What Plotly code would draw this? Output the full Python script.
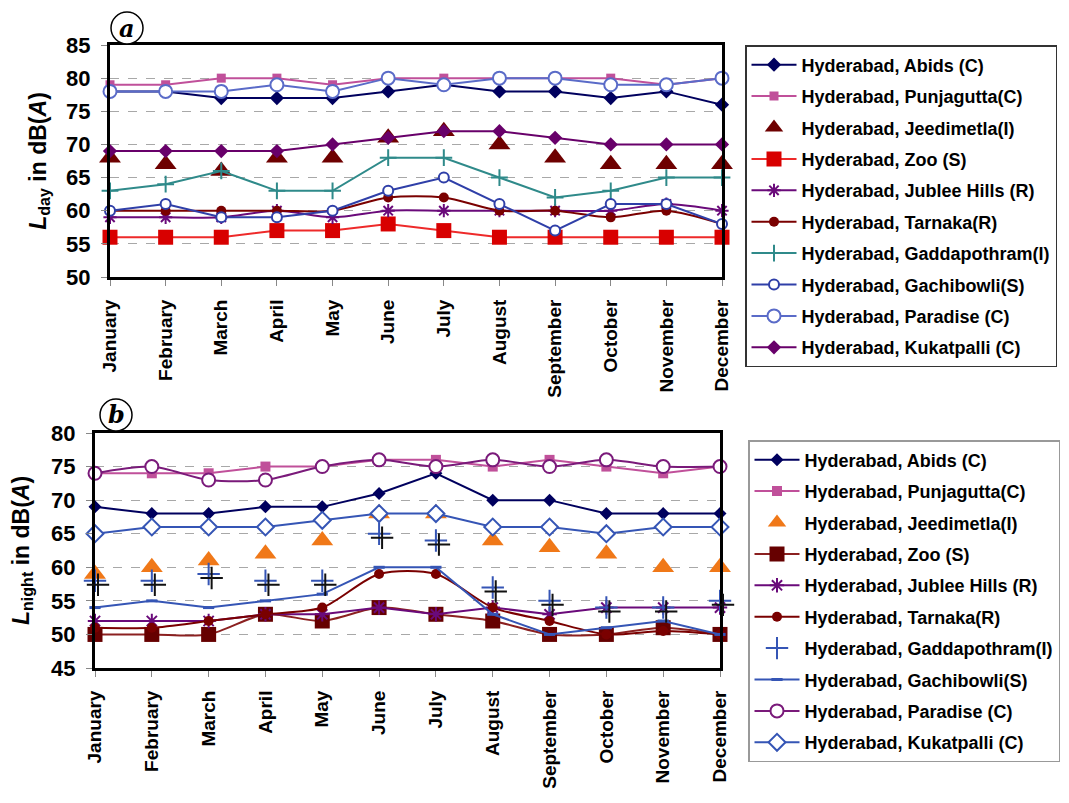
import plotly.graph_objects as go

months = ["January", "February", "March", "April", "May", "June", "July",
          "August", "September", "October", "November", "December"]

names_a = ["Hyderabad, Abids (C)", "Hyderabad, Punjagutta(C)", "Hyderabad, Jeedimetla(I)",
           "Hyderabad, Zoo (S)", "Hyderabad, Jublee Hills (R)", "Hyderabad, Tarnaka(R)",
           "Hyderabad, Gaddapothram(I)", "Hyderabad, Gachibowli(S)", "Hyderabad, Paradise (C)",
           "Hyderabad, Kukatpalli (C)"]
names_b = names_a

# Panel a: L_day
day_abids = [78, 78, 77, 77, 77, 78, 79, 78, 78, 77, 78, 76]
day_punjagutta = [79, 79, 80, 80, 79, 80, 80, 80, 80, 80, 79, 80]
day_jeedimetla = [68, 67, 66, 68, 68, 71, 72, 70, 68, 67, 67, 67]
day_zoo = [56, 56, 56, 57, 57, 58, 57, 56, 56, 56, 56, 56]
day_jublee = [59, 59, 59, 60, 59, 60, 60, 60, 60, 60, 61, 60]
day_tarnaka = [60, 60, 60, 60, 60, 62, 62, 60, 60, 59, 60, 58]
day_gaddapothram = [63, 64, 66, 63, 63, 68, 68, 65, 62, 63, 65, 65]
day_gachibowli = [60, 61, 59, 59, 60, 63, 65, 61, 57, 61, 61, 58]
day_paradise = [78, 78, 78, 79, 78, 80, 79, 80, 80, 79, 79, 80]
day_kukatpalli = [69, 69, 69, 69, 70, 71, 72, 72, 71, 70, 70, 70]

# Panel b: L_night
night_abids = [69, 68, 68, 69, 69, 71, 74, 70, 70, 68, 68, 68]
night_punjagutta = [74, 74, 74, 75, 75, 76, 76, 75, 76, 75, 74, 75]
night_jeedimetla = [59, 60, 61, 62, 64, 68, 68, 64, 63, 62, 60, 60]
night_zoo = [50, 50, 50, 53, 52, 54, 53, 52, 50, 50, 51, 50]
night_jublee = [52, 52, 52, 53, 53, 54, 53, 54, 53, 54, 54, 54]
night_tarnaka = [51, 51, 52, 53, 54, 59, 59, 54, 52, 50, 50.5, 50]
night_gaddapothram = [58, 58, 59, 58, 58, 65, 64, 57, 55, 54, 54, 55]
night_gachibowli = [54, 55, 54, 55, 56, 60, 60, 53, 50, 51, 52, 50]
night_paradise = [74, 75, 73, 73, 75, 76, 75, 76, 75, 76, 75, 75]
night_kukatpalli = [65, 66, 66, 66, 67, 68, 68, 66, 66, 65, 66, 66]

yticks_a = [50, 55, 60, 65, 70, 75, 80, 85]
yticks_b = [45, 50, 55, 60, 65, 70, 75, 80]

fig = go.Figure()


def add(y, name, xa, ya, legend, group, mode, line_color, symbol, size,
        mcolor, mline_color=None, mline_width=0, shape="linear", showlegend=True):
    fig.add_trace(go.Scatter(
        x=months, y=y, name=name, mode=mode, xaxis=xa, yaxis=ya,
        legend=legend, legendgroup=group, cliponaxis=False, showlegend=showlegend,
        line=dict(color=line_color, width=2, shape=shape, smoothing=0.8),
        marker=dict(symbol=symbol, size=size, color=mcolor,
                    line=dict(color=mline_color or mcolor, width=mline_width)),
    ))


# Panel a traces
add(day_abids, names_a[0], "x", "y", "legend", "a0", "lines+markers", "#00005E", "diamond", 11, "#00005E")
add(day_punjagutta, names_a[1], "x", "y", "legend", "a1", "lines+markers", "#C0509A", "square", 9, "#C0509A")
add(day_jeedimetla, names_a[2], "x", "y", "legend", "a2", "markers", "#6E0000", "triangle-up", 19, "#6E0000")
add(day_zoo, names_a[3], "x", "y", "legend", "a3", "lines+markers", "#EE2A2A", "square", 15, "#D80000")
add(day_jublee, names_a[4], "x", "y", "legend", "a4", "lines+markers", "#6A0A7A", "asterisk-open", 11, "#6A0A7A", "#6A0A7A", 2, "spline")
add(day_tarnaka, names_a[5], "x", "y", "legend", "a5", "lines+markers", "#7A0000", "circle", 10, "#7A0000", None, 0, "spline")
add(day_gaddapothram, names_a[6], "x", "y", "legend", "a6", "lines+markers", "#2F8A8A", "cross-thin-open", 12, "#2F8A8A", "#2F8A8A", 2)
add(day_gachibowli, names_a[7], "x", "y", "legend", "a7", "lines+markers", "#2F3FA8", "circle", 10, "white", "#2F3FA8", 2)
add(day_paradise, names_a[8], "x", "y", "legend", "a8", "lines+markers", "#5A6BC8", "circle", 13, "white", "#5A6BC8", 2)
add(day_kukatpalli, names_a[9], "x", "y", "legend", "a9", "lines+markers", "#68006A", "diamond", 11, "#68006A")

# Panel b: drop shadow of the Gaddapothram crosses (same data on slightly offset hidden axes)
add(night_gaddapothram, names_b[6], "x3", "y3", "legend2", "b6s", "markers", "#111111", "cross-thin-open", 16, "#111111", "#111111", 2, showlegend=False)

# Panel b traces
add(night_abids, names_b[0], "x2", "y2", "legend2", "b0", "lines+markers", "#00005E", "diamond", 10, "#00005E")
add(night_punjagutta, names_b[1], "x2", "y2", "legend2", "b1", "lines+markers", "#C0509A", "square", 10, "#C0509A")
add(night_jeedimetla, names_b[2], "x2", "y2", "legend2", "b2", "markers", "#F07818", "triangle-up", 19, "#F07818")
add(night_zoo, names_b[3], "x2", "y2", "legend2", "b3", "lines+markers", "#8B2020", "square", 15, "#660000", None, 0, "spline")
add(night_jublee, names_b[4], "x2", "y2", "legend2", "b4", "lines+markers", "#6A0A7A", "asterisk-open", 12, "#6A0A7A", "#6A0A7A", 2)
add(night_tarnaka, names_b[5], "x2", "y2", "legend2", "b5", "lines+markers", "#7A0000", "circle", 10, "#7A0000", None, 0, "spline")
add(night_gaddapothram, names_b[6], "x2", "y2", "legend2", "b6", "markers", "#3555B5", "cross-thin-open", 16, "#3555B5", "#3555B5", 2)
add(night_gachibowli, names_b[7], "x2", "y2", "legend2", "b7", "lines+markers", "#3555B5", "line-ew-open", 8, "#3555B5", "#3555B5", 3)
add(night_paradise, names_b[8], "x2", "y2", "legend2", "b8", "lines+markers", "#7A1A7A", "circle", 13, "white", "#7A1A7A", 2, "spline")
add(night_kukatpalli, names_b[9], "x2", "y2", "legend2", "b9", "lines+markers", "#3555B5", "diamond", 13, "white", "#3555B5", 2)

W, H = 1069, 803


def px_x(v):
    return v / W


def px_y(v):
    return 1 - v / H


tickfont_y = dict(family="Liberation Sans, Arial", size=22, color="black", weight="bold")
tickfont_x = dict(family="Liberation Sans, Arial", size=19, color="black", weight="bold")

common_x = dict(type="category", range=[0, 11], showline=True, mirror=True, linewidth=3,
                linecolor="black", ticks="outside", ticklen=6, tickcolor="#888888",
                tickangle=-90, tickfont=tickfont_x, showgrid=False, zeroline=False,
                ticklabelstandoff=6, automargin=False)
common_y = dict(showline=True, mirror=True, linewidth=3, linecolor="black",
                ticks="outside", ticklen=6, tickcolor="#888888", tickfont=tickfont_y,
                showgrid=True, gridcolor="#A8A8A8", griddash="dash", gridwidth=1.2,
                zeroline=False, ticklabelstandoff=6, automargin=False)
hidden = dict(visible=False, showgrid=False, zeroline=False, automargin=False)
legend_font = dict(family="Liberation Sans, Arial", size=18, color="black", weight="bold")
title_font = dict(family="Liberation Sans, Arial", size=23, color="black", weight="bold")

fig.update_layout(
    width=W, height=H,
    margin=dict(l=0, r=0, t=0, b=0, pad=0, autoexpand=False),
    paper_bgcolor="white", plot_bgcolor="rgba(0,0,0,0)",
    xaxis=dict(common_x, domain=[px_x(110), px_x(722)], anchor="y"),
    yaxis=dict(common_y, domain=[px_y(277), px_y(45)], anchor="x", range=[50, 85],
               tickvals=yticks_a,
               title=dict(text="<i>L</i><sub>day</sub> in dB(<i>A</i>)", standoff=14, font=title_font)),
    xaxis2=dict(common_x, domain=[px_x(95), px_x(720)], anchor="y2"),
    yaxis2=dict(common_y, domain=[px_y(668), px_y(433)], anchor="x2", range=[45, 80],
                tickvals=yticks_b,
                title=dict(text="<i>L</i><sub>night</sub> in dB(<i>A</i>)", standoff=16, font=title_font)),
    xaxis3=dict(hidden, type="category", range=[0, 11], domain=[px_x(98), px_x(723)], anchor="y3"),
    yaxis3=dict(hidden, range=[45, 80], domain=[px_y(672), px_y(437)], anchor="x3"),
    legend=dict(x=px_x(745), y=px_y(45), xanchor="left", yanchor="top",
                bordercolor="#333333", borderwidth=1.5, bgcolor="white",
                font=legend_font, itemwidth=45, tracegroupgap=5, traceorder="grouped"),
    legend2=dict(x=px_x(748), y=px_y(440), xanchor="left", yanchor="top",
                 bordercolor="#999999", borderwidth=1.5, bgcolor="white",
                 font=legend_font, itemwidth=45, tracegroupgap=5, traceorder="grouped"),
    showlegend=True,
)

# circled panel labels
for cx, cy, r, letter in [(127, 28, 16, "a"), (116, 415, 16, "b")]:
    fig.add_shape(type="circle", xref="paper", yref="paper",
                  x0=px_x(cx - r), x1=px_x(cx + r), y0=px_y(cy + r), y1=px_y(cy - r),
                  line=dict(color="black", width=1.5), fillcolor="white")
    fig.add_annotation(x=px_x(cx), y=px_y(cy), xref="paper", yref="paper",
                       text="<b><i>%s</i></b>" % letter, showarrow=False,
                       font=dict(family="DejaVu Serif", size=24, color="black"),
                       xanchor="center", yanchor="middle")

fig.write_html("out.html")
